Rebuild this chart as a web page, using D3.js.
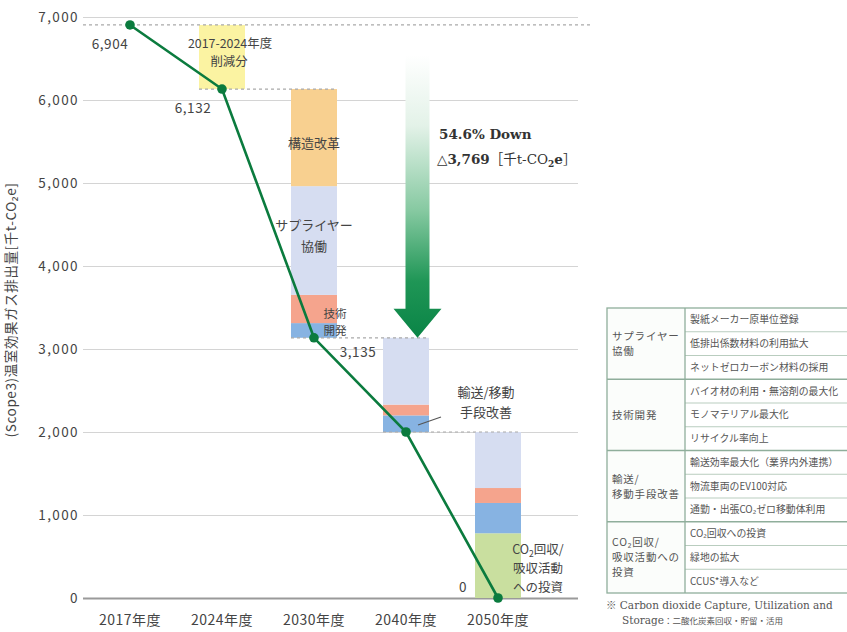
<!DOCTYPE html>
<html lang="ja">
<head>
<meta charset="utf-8">
<script src="https://cdn.jsdelivr.net/npm/d3@7"></script>
<style>
  html, body { margin: 0; padding: 0; background: #fff; }
  svg { display: block; }
  text { font-family: "Noto Sans CJK JP", "Noto Sans", sans-serif; fill: #444; }
  .serif { font-family: "DejaVu Serif", "Liberation Serif", "Noto Sans CJK JP", serif; }
</style>
</head>
<body>
<svg id="chart" width="847" height="632"></svg>
<script>
// ---- data ----
const categories = ['2017年度', '2024年度', '2030年度', '2040年度', '2050年度'];
// total emissions per fiscal year [千t-CO2e]
const totals = [6904, 6132, 3135, 2000, 0];
// whether the total is written next to its point
const showTotal = [true, true, true, false, true];

// reduction segments; each bar sits between totals[i] and totals[i-1]
const cut2017to2024 = [0, 772, 0, 0, 0];
const structureReform = [0, 0, 1170, 0, 0];
const supplierCollab = [0, 0, 1310, 805, 675];
const techDevelopment = [0, 0, 340, 130, 180];
const transportImprove = [0, 0, 177, 200, 365];
const co2Capture = [0, 0, 0, 0, 780];

const yTicks = [0, 1000, 2000, 3000, 4000, 5000, 6000, 7000];

// table of measures
const tableGroups = [
  ['サプライヤー', '協働'],
  ['技術開発'],
  ['輸送/', '移動手段改善'],
  ['CO₂回収/', '吸収活動への', '投資']
];
const tableItems = [
  ['製紙メーカー原単位登録', '低排出係数材料の利用拡大', 'ネットゼロカーボン材料の採用'],
  ['バイオ材の利用・無溶剤の最大化', 'モノマテリアル最大化', 'リサイクル率向上'],
  ['輸送効率最大化（業界内外連携）', '物流車両のEV100対応', '通勤・出張CO₂ゼロ移動体利用'],
  ['CO₂回収への投資', '緑地の拡大', 'CCUS*導入など']
];

// ---- layout ----
const svg = d3.select('#chart');
const plotLeft = 83, plotRight = 578;
const y = d3.scaleLinear().domain([0, 7000]).range([598, 17]);
const x = d3.scaleBand().domain(categories).range([107, 521]).paddingInner(0.5).paddingOuter(0);
const bw = x.bandwidth();
const cx = c => x(c) + bw / 2;

// stacked reduction segments (bottom-up order)
const segSeries = [
  { key: 'co2', values: co2Capture, color: '#c9df9f' },
  { key: 'transport', values: transportImprove, color: '#87b3e2' },
  { key: 'tech', values: techDevelopment, color: '#f5a48d' },
  { key: 'supplier', values: supplierCollab, color: '#d6ddf1' },
  { key: 'structure', values: structureReform, color: '#f8d090' },
  { key: 'cut', values: cut2017to2024, color: '#fbf3a2' }
];
const rows = categories.map((c, i) => {
  const r = { cat: c, base: totals[i] };
  segSeries.forEach(s => { r[s.key] = s.values[i]; });
  return r;
});
const stack = d3.stack().keys(segSeries.map(s => s.key));
const stacked = stack(rows);

// ---- y axis with gridlines ----
const yAxis = d3.axisLeft(y).tickValues(yTicks).tickFormat(d3.format(','))
  .tickSize(-(plotRight - plotLeft)).tickPadding(4);
const gy = svg.append('g').attr('transform', `translate(${plotLeft},0)`).call(yAxis);
gy.select('.domain').remove();
gy.selectAll('.tick line').attr('stroke', '#d4d4d4').attr('stroke-width', 1);
gy.selectAll('.tick text').attr('font-size', 13.5).attr('letter-spacing', 1.4).style('fill', '#444');
gy.selectAll('.tick').filter(d => d === 0).select('line').attr('stroke', '#9a9a9a').attr('stroke-width', 2);

svg.append('text')
  .attr('transform', `translate(16,${310}) rotate(-90)`)
  .attr('text-anchor', 'middle')
  .attr('font-size', 13.5).attr('letter-spacing', 0.6)
  .text('(Scope3)温室効果ガス排出量[千t-CO₂e]');

// ---- bars ----
const gBars = svg.append('g');
stacked.forEach((layer, li) => {
  gBars.selectAll(null).data(layer.filter(d => d[1] - d[0] > 0)).enter().append('rect')
    .attr('x', d => x(d.data.cat))
    .attr('width', bw)
    .attr('y', d => y(d.data.base + d[1]))
    .attr('height', d => y(d.data.base + d[0]) - y(d.data.base + d[1]))
    .attr('fill', segSeries[li].color);
});

// ---- dashed connectors ----
const gDash = svg.append('g').attr('stroke', '#a9a9a9').attr('stroke-width', 1.2).attr('stroke-dasharray', '3,3');
gDash.append('line')
  .attr('x1', plotLeft).attr('x2', 592)
  .attr('y1', y(totals[0])).attr('y2', y(totals[0]));
for (let i = 1; i < categories.length - 1; i++) {
  gDash.append('line')
    .attr('x1', x(categories[i])).attr('x2', x(categories[i + 1]) + bw)
    .attr('y1', y(totals[i])).attr('y2', y(totals[i]));
}

// ---- arrow ----
const defs = svg.append('defs');
const grad = defs.append('linearGradient').attr('id', 'arrowGrad')
  .attr('x1', 0).attr('y1', 0).attr('x2', 0).attr('y2', 1);
[[0, '#ffffff'], [0.25, '#e3f2e8'], [0.55, '#86c9a1'], [0.8, '#1f9656'], [1, '#0a8446']]
  .forEach(([o, c]) => grad.append('stop').attr('offset', o).attr('stop-color', c));
const ax = x('2040年度') + bw * 0.75;
const aTop = y(6540), aTip = y(totals[2]);
const shaftHalf = 12, headHalf = 24, headH = 29;
svg.append('path')
  .attr('d', `M${ax - shaftHalf},${aTop} L${ax + shaftHalf},${aTop} L${ax + shaftHalf},${aTip - headH}
    L${ax + headHalf},${aTip - headH} L${ax},${aTip} L${ax - headHalf},${aTip - headH}
    L${ax - shaftHalf},${aTip - headH} Z`)
  .attr('fill', 'url(#arrowGrad)');

const drop = totals[0] - totals[2];
svg.append('text').attr('class', 'serif')
  .attr('x', 439).attr('y', 139).attr('font-size', 13.5).attr('font-weight', 'bold')
  .style('fill', '#333')
  .text(d3.format('.1f')(drop / totals[0] * 100) + '% Down');
const t2 = svg.append('text').attr('class', 'serif')
  .attr('x', 437).attr('y', 164).attr('font-size', 13.5).attr('font-weight', 'bold')
  .style('fill', '#333');
t2.append('tspan').style('font-weight', 'normal').text('△');
t2.append('tspan').text(d3.format(',')(drop));
t2.append('tspan').style('font-weight', 'normal').text('［千t-CO');
t2.append('tspan').attr('font-size', 9).attr('dy', 3).text('2');
t2.append('tspan').attr('dy', -3).text('e');
t2.append('tspan').style('font-weight', 'normal').text('］');

// ---- line ----
const line = d3.line().x((d, i) => cx(categories[i])).y(d => y(d));
svg.append('path').datum(totals).attr('d', line)
  .attr('fill', 'none').attr('stroke', '#0b7b3e').attr('stroke-width', 2.6);
svg.selectAll('.pt').data(totals).enter().append('circle')
  .attr('cx', (d, i) => cx(categories[i])).attr('cy', d => y(d)).attr('r', 4.8)
  .attr('fill', '#0b7b3e');

// total labels
const labelPos = [
  { dx: -20, dy: 24 }, { dx: -29, dy: 24 }, { dx: 44, dy: 19 }, null, { dx: -35, dy: -6 }
];
totals.forEach((v, i) => {
  if (!showTotal[i]) return;
  svg.append('text')
    .attr('x', cx(categories[i]) + labelPos[i].dx)
    .attr('y', y(v) + labelPos[i].dy)
    .attr('text-anchor', 'middle').attr('font-size', 13.5).attr('letter-spacing', 0.6)
    .text(d3.format(',')(v));
});

// ---- x axis ----
const xAxis = d3.axisBottom(x).tickSize(0).tickPadding(17);
const gx = svg.append('g').attr('transform', `translate(0,${y(0)})`).call(xAxis);
gx.select('.domain').remove();
gx.selectAll('.tick text').attr('font-size', 14).attr('letter-spacing', 0.5).style('fill', '#444');

// ---- segment annotations ----
function addText(str, xPos, yPos, size) {
  return svg.append('text').attr('x', xPos).attr('y', yPos)
    .attr('text-anchor', 'middle').attr('font-size', size).text(str);
}
addText('2017-2024年度', 230, 48, 12.4);
addText('削減分', 229, 66, 12.4);
addText('構造改革', cx('2030年度'), 148, 13);
addText('サプライヤー', cx('2030年度'), 230, 13);
addText('協働', cx('2030年度'), 251, 13);
addText('技術', cx('2030年度') + 21, 318, 11.6);
addText('開発', cx('2030年度') + 21, 335, 11.6);
addText('輸送/移動', 486, 397, 13);
addText('手段改善', 486, 417, 13);
svg.append('line').attr('x1', 418).attr('y1', 425).attr('x2', 441).attr('y2', 417)
  .attr('stroke', '#555').attr('stroke-width', 1.2);
const co2Label = svg.append('text').attr('x', 538).attr('y', 554)
  .attr('text-anchor', 'middle').attr('font-size', 12.5);
co2Label.append('tspan').text('CO');
co2Label.append('tspan').attr('font-size', 8.5).attr('dy', 3).text('2');
co2Label.append('tspan').attr('dy', -3).text('回収/');
addText('吸収活動', 538, 573, 12.5);
addText('への投資', 538, 591.5, 12.5);

// ---- measures table ----
const tX = 607, tY = 308, rowH = 23.75, c1W = 78, tRight = 870;
const gT = svg.append('g');
let rowIdx = 0;
tableGroups.forEach((g, gi) => {
  const gy0 = tY + rowIdx * rowH;
  const n = tableItems[gi].length;
  gT.append('rect').attr('x', tX).attr('y', gy0).attr('width', c1W).attr('height', n * rowH)
    .attr('fill', '#fbfdfb');
  tableItems[gi].forEach((item, k) => {
    const ry = gy0 + k * rowH;
    if (k > 0) {
      gT.append('line').attr('x1', tX + c1W).attr('x2', tRight).attr('y1', ry).attr('y2', ry)
        .attr('stroke', '#b9cdbf').attr('stroke-width', 1);
    }
    gT.append('text').attr('x', tX + c1W + 5).attr('y', ry + rowH / 2 + 3.6)
      .attr('font-size', 9.9).style('fill', '#555').text(item);
  });
  // group label, centered vertically
  const lh = 15;
  const startY = gy0 + n * rowH / 2 - (g.length - 1) * lh / 2 + 4;
  const gt = gT.append('text').attr('x', tX + 5).attr('y', startY).attr('font-size', 10.5)
    .attr('letter-spacing', 0.8).style('fill', '#555');
  g.forEach((l, k) => {
    gt.append('tspan').attr('x', tX + 5).attr('dy', k === 0 ? 0 : lh).text(l);
  });
  if (gi > 0) {
    gT.append('line').attr('x1', tX).attr('x2', tRight).attr('y1', gy0).attr('y2', gy0)
      .attr('stroke', '#8fae9b').attr('stroke-width', 1.3);
  }
  rowIdx += n;
});
const tBottom = tY + rowIdx * rowH;
gT.append('rect').attr('x', tX).attr('y', tY).attr('width', tRight - tX).attr('height', tBottom - tY)
  .attr('fill', 'none').attr('stroke', '#8fae9b').attr('stroke-width', 1.3);
gT.append('line').attr('x1', tX + c1W).attr('x2', tX + c1W).attr('y1', tY).attr('y2', tBottom)
  .attr('stroke', '#8fae9b').attr('stroke-width', 1.3);

svg.append('text').attr('class', 'serif').attr('x', 606).attr('y', 609)
  .attr('font-size', 10.5).style('fill', '#555')
  .text('※ Carbon dioxide Capture, Utilization and');
const fn2 = svg.append('text').attr('x', 622).attr('y', 624).style('fill', '#555');
fn2.append('tspan').attr('class', 'serif').attr('font-size', 10.5).text('Storage');
fn2.append('tspan').attr('font-size', 8.5).text('：二酸化炭素回収・貯留・活用');
</script>
</body>
</html>
